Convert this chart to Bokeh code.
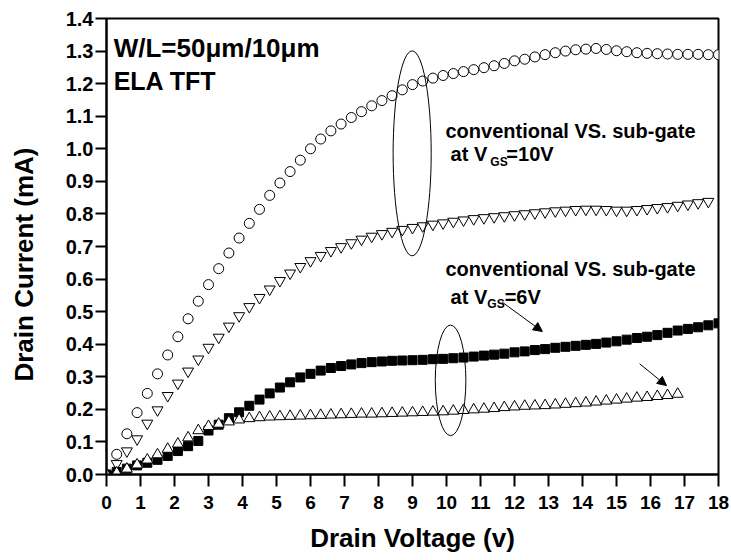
from bokeh.plotting import figure
from bokeh.models import Range1d, Label, Arrow, NormalHead, FixedTicker, NumeralTickFormatter
from bokeh.embed import file_html
from bokeh.resources import INLINE

# ---- data ----
vd = [0.0, 0.3, 0.6, 0.9, 1.2, 1.5, 1.8, 2.1, 2.4, 2.7, 3.0, 3.3, 3.6, 3.9, 4.2, 4.5,
      4.8, 5.1, 5.4, 5.7, 6.0, 6.3, 6.6, 6.9, 7.2, 7.5, 7.8, 8.1, 8.4, 8.7, 9.0, 9.3,
      9.6, 9.9, 10.2, 10.5, 10.8, 11.1, 11.4, 11.7, 12.0, 12.3, 12.6, 12.9, 13.2, 13.5,
      13.8, 14.1, 14.4, 14.7, 15.0, 15.3, 15.6, 15.9, 16.2, 16.5, 16.8, 17.1, 17.4,
      17.7, 18.0]

conv_10v = [0.0, 0.062, 0.125, 0.19, 0.249, 0.309, 0.367, 0.423, 0.478, 0.532,
            0.583, 0.632, 0.68, 0.726, 0.771, 0.814, 0.857, 0.895, 0.93, 0.965,
            1.0, 1.03, 1.055, 1.076, 1.096, 1.114, 1.132, 1.148, 1.163, 1.181,
            1.197, 1.208, 1.217, 1.225, 1.231, 1.237, 1.243, 1.249, 1.255, 1.262,
            1.27, 1.275, 1.282, 1.289, 1.295, 1.3, 1.304, 1.306, 1.308, 1.305,
            1.301, 1.298, 1.295, 1.293, 1.292, 1.291, 1.29, 1.29, 1.29, 1.289, 1.289]

sub_10v = [0.0, 0.033, 0.072, 0.109, 0.157, 0.198, 0.242, 0.28, 0.317, 0.354,
           0.39, 0.421, 0.455, 0.487, 0.515, 0.543, 0.569, 0.595, 0.618, 0.638,
           0.656, 0.672, 0.687, 0.699, 0.711, 0.722, 0.731, 0.739, 0.746, 0.752,
           0.758, 0.763, 0.768, 0.772, 0.777, 0.781, 0.785, 0.788, 0.791, 0.794,
           0.797, 0.8, 0.803, 0.806, 0.809, 0.811, 0.813, 0.814, 0.814, 0.813,
           0.811, 0.811, 0.813, 0.816, 0.819, 0.822, 0.826, 0.83, 0.834, 0.838]

conv_6v = [0.0, 0.008, 0.018, 0.028, 0.036, 0.045, 0.057, 0.072, 0.087, 0.103,
           0.135, 0.153, 0.173, 0.191, 0.211, 0.23, 0.249, 0.267, 0.283, 0.298,
           0.309, 0.319, 0.327, 0.333, 0.338, 0.342, 0.345, 0.347, 0.349, 0.35,
           0.351, 0.352, 0.354, 0.355, 0.357, 0.359, 0.362, 0.365, 0.368, 0.371,
           0.375, 0.378, 0.382, 0.385, 0.389, 0.392, 0.395, 0.398, 0.401, 0.405,
           0.409, 0.414, 0.419, 0.423, 0.428, 0.435, 0.442, 0.447, 0.452, 0.458, 0.464]

sub_6v = [0.0, 0.005, 0.017, 0.03, 0.045, 0.061, 0.078, 0.094, 0.113, 0.135,
          0.148, 0.155, 0.162, 0.168, 0.172, 0.175, 0.177, 0.178, 0.179, 0.18,
          0.181, 0.182, 0.183, 0.184, 0.185, 0.186, 0.186, 0.187, 0.188, 0.189,
          0.19, 0.191, 0.192, 0.193, 0.195, 0.197, 0.199, 0.201, 0.203, 0.206,
          0.208, 0.21, 0.211, 0.212, 0.214, 0.216, 0.218, 0.22, 0.223, 0.226,
          0.229, 0.232, 0.235, 0.237, 0.24, 0.243, 0.247]

x_ticks = [0, 1, 2, 3, 4, 5, 6, 7, 8, 9, 10, 11, 12, 13, 14, 15, 16, 17, 18]
y_ticks = [0.0, 0.1, 0.2, 0.3, 0.4, 0.5, 0.6, 0.7, 0.8, 0.9, 1.0, 1.1, 1.2, 1.3, 1.4]

FONT = "Liberation Sans"
NB = "\u00a0"

p = figure(width=731, height=560, output_backend="svg", toolbar_location=None,
           x_range=Range1d(0, 18), y_range=Range1d(0, 1.4),
           min_border_left=106, min_border_right=13, min_border_top=18,
           min_border_bottom=86)
p.grid.visible = False
p.outline_line_color = "black"
p.outline_line_width = 2
p.background_fill_color = "white"
p.border_fill_color = "white"

xa = p.xaxis[0]
ya = p.yaxis[0]
for ax, ticks in ((xa, x_ticks), (ya, y_ticks)):
    ax.ticker = FixedTicker(ticks=ticks)
    ax.axis_line_width = 2
    ax.major_tick_line_width = 2
    ax.major_tick_in = 0
    ax.minor_tick_line_color = None
    ax.major_label_text_font = FONT
    ax.major_label_text_font_style = "bold"
    ax.major_label_text_color = "black"
    ax.axis_label_text_font = FONT
    ax.axis_label_text_font_style = "bold"
    ax.axis_label_text_font_size = "26px"
    ax.axis_label_text_color = "black"
xa.major_label_text_font_size = "19px"
ya.major_label_text_font_size = "20px"
xa.major_tick_out = 12
xa.major_label_standoff = 9
ya.major_tick_out = 11
ya.major_label_standoff = 2
ya.formatter = NumeralTickFormatter(format="0.0")
xa.axis_label = "Drain Voltage (v)"
xa.axis_label_standoff = 11
ya.axis_label = "Drain Current (mA)" + NB * 5
ya.axis_label_standoff = 24

# series
p.scatter(vd, conv_10v, marker="circle", size=10, fill_color="white",
          line_color="black", line_width=1)
p.scatter(vd[:len(sub_10v)], sub_10v, marker="inverted_triangle", size=11,
          fill_color="white", line_color="black", line_width=1)
p.scatter(vd, conv_6v, marker="square", size=9, fill_color="black",
          line_color="black", line_width=1)
p.scatter(vd[:len(sub_6v)], sub_6v, marker="triangle", size=11,
          fill_color="white", line_color="black", line_width=1)

# ellipses
p.ellipse(x=[8.99, 10.12], y=[0.986, 0.289], width=[1.12, 0.90], height=[0.629, 0.34],
          fill_color=None, line_color="black", line_width=1)

# arrows
for xs, ys, xe, ye in ((11.64, 0.529, 12.82, 0.439), (15.68, 0.340, 16.47, 0.273)):
    p.add_layout(Arrow(end=NormalHead(size=9, fill_color="black", line_color="black"),
                       x_start=xs, y_start=ys, x_end=xe, y_end=ye,
                       line_color="black", line_width=1))

def lab(x, y, text, size, align="left"):
    p.add_layout(Label(x=x, y=y, text=text, text_font=FONT, text_font_style="bold",
                       text_font_size=size, text_color="black",
                       text_align=align, text_baseline="alphabetic"))

lab(0.21, 1.310, "W/L=50\u03bcm/10\u03bcm", "26px")
lab(0.21, 1.209, "ELA TFT", "25px")

lab(9.97, 1.055, "conventional VS. sub-gate", "20px")
lab(10.12, 0.984, "at V", "20px")
lab(11.29, 0.958, "GS", "12px")
lab(11.76, 0.984, "=10V", "20px")

lab(9.97, 0.631, "conventional VS. sub-gate", "20px")
lab(10.12, 0.544, "at V", "20px")
lab(11.20, 0.522, "GS", "12px")
lab(11.71, 0.544, "=6V", "20px")

open("out.html", "w").write(file_html(p, INLINE))
